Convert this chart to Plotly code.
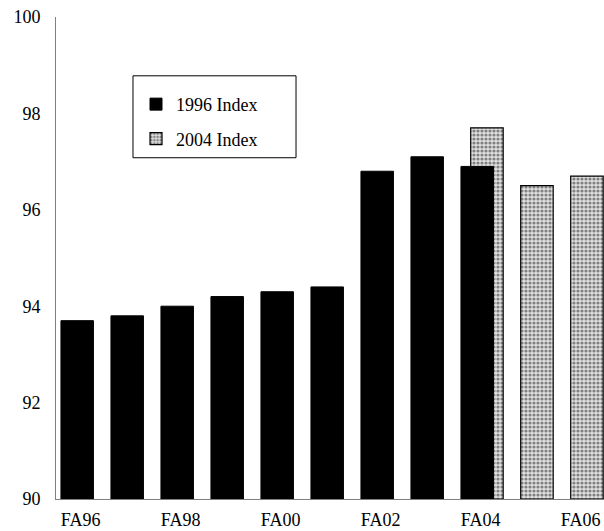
import plotly.graph_objects as go

categories = ["FA96", "FA97", "FA98", "FA99", "FA00", "FA01", "FA02", "FA03", "FA04", "FA05", "FA06"]
index_1996 = [93.7, 93.8, 94.0, 94.2, 94.3, 94.4, 96.8, 97.1, 96.9, None, None]
index_2004 = [None, None, None, None, None, None, None, None, 97.7, 96.5, 96.7]
tick_labels = ["FA96", "FA98", "FA00", "FA02", "FA04", "FA06"]

pos = list(range(len(categories)))
tick_pos = [categories.index(t) for t in tick_labels]

fig = go.Figure()
fig.add_trace(go.Bar(
    x=pos, y=[v - 90 if v is not None else None for v in index_2004], base=90,
    name="2004 Index", width=0.65, offset=-0.2, legendgroup="b",
    marker=dict(color="white", line=dict(color="black", width=1.2),
                pattern=dict(shape=".", fgcolor="#222222", bgcolor="#e0e0e0", size=4, solidity=0.5)),
    legendrank=2,
))
fig.add_trace(go.Bar(
    x=pos, y=[v - 90 if v is not None else None for v in index_1996], base=90,
    name="1996 Index", width=0.65, offset=-0.395, legendgroup="a",
    marker=dict(color="black", line=dict(color="black", width=1)),
    legendrank=1,
))

# legend frame
fig.add_shape(type="rect", xref="paper", yref="paper",
              x0=0.1405, x1=0.438, y0=0.708, y1=0.878,
              line=dict(color="black", width=1), fillcolor="white", layer="below")

fig.update_layout(
    width=604, height=531,
    margin=dict(l=56, r=0, t=17, b=32),
    paper_bgcolor="white", plot_bgcolor="white",
    barmode="overlay",
    font=dict(family="Liberation Serif, Times New Roman, serif", size=18, color="black"),
    showlegend=True,
    legend=dict(x=0.146, y=0.857, xanchor="left", yanchor="top",
                borderwidth=0, bgcolor="rgba(0,0,0,0)",
                font=dict(size=18), traceorder="grouped",
                tracegroupgap=8),
    xaxis=dict(range=[-0.494, 10.466], tickvals=tick_pos, ticktext=tick_labels,
               showline=True, linecolor="#808080", linewidth=1,
               showgrid=False, zeroline=False, ticks="", ticklabelstandoff=4,
               ticklabeloverflow="allow"),
    yaxis=dict(range=[90, 100], tickvals=[90, 92, 94, 96, 98, 100],
               showline=True, linecolor="#808080", linewidth=1,
               showgrid=False, zeroline=False, ticks="", ticklabelstandoff=11,
               ticklabeloverflow="allow"),
)

fig.write_html("out.html", config={"displayModeBar": False},
               post_script="document.body.style.margin='0';document.body.style.overflow='hidden';")
